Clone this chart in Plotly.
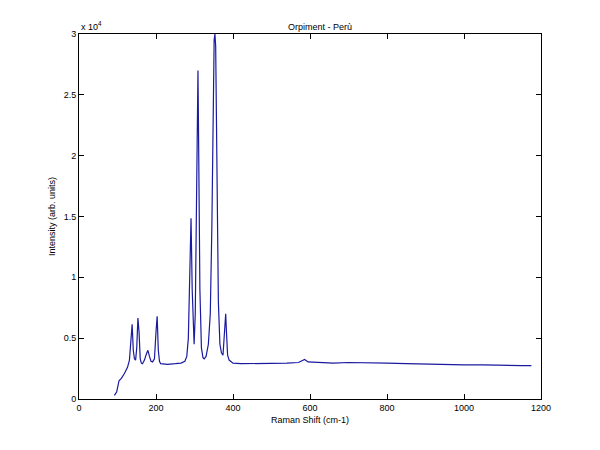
import plotly.graph_objects as go

shift = [92, 98, 104, 110, 118, 126, 131, 135, 138, 141, 144, 147, 150, 153, 156, 159, 162, 165, 170, 175, 179, 183, 187, 191, 196, 200, 203, 206, 209, 212, 230, 250, 265, 275, 280, 284, 288, 291, 294, 297, 299, 302, 305, 307, 309, 311, 314, 318, 322, 325, 330, 336, 341, 345, 348, 351, 353, 355, 358, 362, 366, 370, 374, 377, 379, 381, 383, 386, 390, 395, 400, 420, 450, 500, 540, 570, 580, 586, 595, 620, 660, 700, 750, 800, 850, 900, 950, 1000, 1050, 1100, 1150, 1175]
inten = [300, 600, 1500, 1700, 2100, 2600, 3200, 4800, 6150, 4000, 3300, 3200, 4200, 6650, 5500, 3300, 2950, 2900, 3200, 3700, 4000, 3500, 3100, 3050, 3300, 5500, 6800, 4000, 3100, 2900, 2850, 2900, 2950, 3100, 3500, 5000, 11500, 14850, 9000, 4800, 4500, 7000, 15000, 24000, 27000, 20000, 9000, 4200, 3400, 3300, 3500, 4500, 7000, 14000, 24000, 29500, 30000, 29000, 20000, 8000, 4500, 3800, 3600, 5000, 6800, 7000, 5500, 3600, 3200, 3050, 2950, 2900, 2900, 2900, 2950, 3000, 3200, 3250, 3050, 3000, 2950, 3000, 3000, 2950, 2900, 2850, 2850, 2800, 2800, 2750, 2750, 2750]

xticks = [0, 200, 400, 600, 800, 1000, 1200]
yticks = [0, 5000, 10000, 15000, 20000, 25000, 30000]
ytext = ["0", "0.5", "1", "1.5", "2", "2.5", "3"]

fig = go.Figure(go.Scatter(x=shift, y=inten, mode="lines", line=dict(color="#1a1aa0", width=1.2)))
ax = dict(showgrid=False, zeroline=False, showline=True, mirror="ticks", linecolor="black",
          linewidth=1, ticks="inside", ticklen=5, tickcolor="black", automargin=False,
          tickfont=dict(size=9, family="Arial, Liberation Sans"))
fig.update_layout(
    width=600, height=450, paper_bgcolor="white", plot_bgcolor="white",
    margin=dict(l=71, r=67, t=26, b=59, autoexpand=False), showlegend=False,
    title=dict(text="Orpiment - Perù", x=0.52, y=0.965, xanchor="center", font=dict(size=9, color="black")),
    xaxis=dict(range=[0, 1200], tickvals=xticks, title=dict(text="Raman Shift (cm-1)", font=dict(size=9), standoff=4), **ax),
    yaxis=dict(range=[0, 30000], tickvals=yticks, ticktext=ytext, title=dict(text="Intensity (arb. units)", font=dict(size=9), standoff=6), **ax),
    font=dict(family="Arial, Liberation Sans", color="black"),
)
fig.add_annotation(text="x 10<sup>4</sup>", xref="paper", yref="paper", x=0, y=1.0, xanchor="left", yanchor="bottom",
                   showarrow=False, font=dict(size=9))
fig.write_html("out.html")
